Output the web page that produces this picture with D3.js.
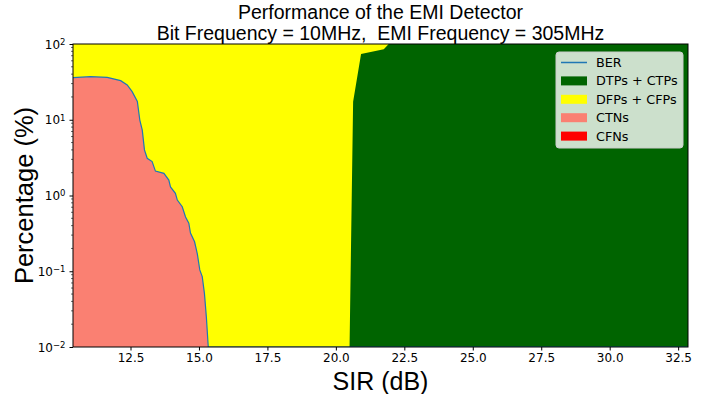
<!DOCTYPE html>
<html>
<head>
<meta charset="utf-8">
<script src="https://cdn.jsdelivr.net/npm/d3@7"></script>
<style>
  html, body { margin: 0; padding: 0; background: #fff; }
  svg { display: block; }
  .tick text { font-family: "DejaVu Sans", sans-serif; font-size: 12px; fill: #000; }
</style>
</head>
<body>
<div id="chart"></div>
<script>
// EMI detector outcome percentages versus SIR, drawn on a log percentage axis.

const MARGIN = { top: 44, right: 29, bottom: 47, left: 73 };
const WIDTH = 717;
const HEIGHT = 394;

const PALETTE = {
  ber: "#1f77b4",
  tp: "#006400",
  fp: "#ffff00",
  ctn: "#fa8072",
  cfn: "#ff0000",
};

const X_DOMAIN = [10.4, 32.86];
const Y_DOMAIN = [0.01, 100];
const X_TICKS = [12.5, 15.0, 17.5, 20.0, 22.5, 25.0, 27.5, 30.0, 32.5];
const Y_TICKS = [0.01, 0.1, 1, 10, 100];
const Y_TICK_EXP = ["\u22122", "\u22121", "0", "1", "2"];

// CTNs (and BER, which sits on the same curve), % vs SIR (dB)
const sirCtn = [10.4, 11.04, 11.65, 12.14, 12.38, 12.56, 12.75, 12.84, 12.93, 13.01,
  13.11, 13.29, 13.41, 13.72, 13.90, 13.96, 14.14, 14.21, 14.39, 14.51,
  14.63, 14.69, 14.84, 14.94, 15.03, 15.12, 15.20, 15.27, 15.34, 15.36, 32.86];
const ctnPct = [36.0, 37.0, 36.3, 32.8, 28.8, 23.5, 17.4, 9.9, 7.3, 4.0,
  3.1, 2.8, 2.1, 1.96, 1.6, 1.3, 1.07, 0.87, 0.71, 0.52,
  0.43, 0.32, 0.245, 0.17, 0.104, 0.085, 0.051, 0.025, 0.008, 0, 0];
const berPct = ctnPct;

// CFNs stay at zero over the whole range
const sirCfn = [10.4, 32.86];
const cfnPct = [0, 0];

// DTPs + CTPs
const sirTp = [10.4, 20.45, 20.5, 20.63, 20.92, 21.75, 21.93, 32.86];
const tpPct = [0, 0, 0.005, 17.3, 73.8, 85.0, 100, 100];

// DFPs + CFPs fill what is left up to 100 %
const sirFp = [10.4, 32.86];
const fpTop = [100, 100];

const LEGEND = [
  { label: "BER", color: PALETTE.ber, kind: "line" },
  { label: "DTPs + CTPs", color: PALETTE.tp, kind: "patch" },
  { label: "DFPs + CFPs", color: PALETTE.fp, kind: "patch" },
  { label: "CTNs", color: PALETTE.ctn, kind: "patch" },
  { label: "CFNs", color: PALETTE.cfn, kind: "patch" },
];

const d3 = window.d3;

const x = d3.scaleLinear().domain(X_DOMAIN).range([MARGIN.left, WIDTH - MARGIN.right]);
const y = d3.scaleLog().domain(Y_DOMAIN).range([HEIGHT - MARGIN.bottom, MARGIN.top]);
const yc = (v) => y(Math.max(Y_DOMAIN[0], Math.min(Y_DOMAIN[1], v)));

const svg = d3
  .select("#chart")
  .append("svg")
  .attr("width", WIDTH)
  .attr("height", HEIGHT)
  .attr("viewBox", [0, 0, WIDTH, HEIGHT]);

svg.append("clipPath").attr("id", "plot-clip")
  .append("rect")
  .attr("x", MARGIN.left)
  .attr("y", MARGIN.top)
  .attr("width", WIDTH - MARGIN.left - MARGIN.right)
  .attr("height", HEIGHT - MARGIN.top - MARGIN.bottom);

const plot = svg.append("g").attr("clip-path", "url(#plot-clip)");

const zip = (xs, ys) => xs.map((v, i) => [v, ys[i]]);
const area = d3.area().x((d) => x(d[0])).y0(() => y(Y_DOMAIN[0])).y1((d) => yc(d[1]));

plot.append("path").datum(zip(sirFp, fpTop)).attr("d", area).attr("fill", PALETTE.fp);
plot.append("path").datum(zip(sirTp, tpPct)).attr("d", area).attr("fill", PALETTE.tp);
plot.append("path").datum(zip(sirCtn, ctnPct)).attr("d", area).attr("fill", PALETTE.ctn);
plot.append("path").datum(zip(sirCfn, cfnPct)).attr("d", area).attr("fill", PALETTE.cfn);

plot.append("path")
  .datum(zip(sirCtn, berPct))
  .attr("d", d3.line().x((d) => x(d[0])).y((d) => yc(d[1])))
  .attr("fill", "none")
  .attr("stroke", PALETTE.ber)
  .attr("stroke-width", 1.2);

// axes
const xAxis = svg.append("g")
  .attr("transform", `translate(0,${HEIGHT - MARGIN.bottom})`)
  .call(d3.axisBottom(x).tickValues(X_TICKS).tickFormat(d3.format(".1f")).tickSize(3.5).tickPadding(3));
xAxis.select(".domain").remove();

const minorTicks = [];
for (let e = -2; e < 2; e++) {
  for (let m = 2; m <= 9; m++) minorTicks.push(m * Math.pow(10, e));
}
const yMinor = svg.append("g").attr("transform", `translate(${MARGIN.left},0)`);
yMinor.selectAll("line")
  .data(minorTicks)
  .join("line")
  .attr("x1", -2)
  .attr("x2", 0)
  .attr("y1", (d) => y(d))
  .attr("y2", (d) => y(d))
  .attr("stroke", "#000")
  .attr("stroke-width", 0.6);

const yAxis = svg.append("g")
  .attr("transform", `translate(${MARGIN.left},0)`)
  .call(d3.axisLeft(y).tickValues(Y_TICKS).tickFormat(() => "").tickSize(3.5).tickPadding(4));
yAxis.select(".domain").remove();
yAxis.selectAll(".tick text").each(function (d, i) {
  const t = d3.select(this).attr("dy", "0.35em");
  t.append("tspan").text("10");
  t.append("tspan").attr("dy", "-0.45em").style("font-size", "8.5px").text(Y_TICK_EXP[i]);
});

svg.append("rect")
  .attr("x", MARGIN.left)
  .attr("y", MARGIN.top)
  .attr("width", WIDTH - MARGIN.left - MARGIN.right)
  .attr("height", HEIGHT - MARGIN.top - MARGIN.bottom)
  .attr("fill", "none")
  .attr("stroke", "#000")
  .attr("stroke-width", 1);

// titles
const cx = (MARGIN.left + WIDTH - MARGIN.right) / 2;
svg.append("text")
  .attr("x", cx)
  .attr("y", 19)
  .attr("text-anchor", "middle")
  .style("font-family", "'Liberation Sans', Arial, sans-serif")
  .style("font-size", "19.5px")
  .text("Performance of the EMI Detector");
svg.append("text")
  .attr("x", cx)
  .attr("y", 40)
  .attr("text-anchor", "middle")
  .style("font-family", "'Liberation Sans', Arial, sans-serif")
  .style("font-size", "19.5px")
  .style("white-space", "pre")
  .text("Bit Frequency = 10MHz,  EMI Frequency = 305MHz");

svg.append("text")
  .attr("x", cx)
  .attr("y", 390)
  .attr("text-anchor", "middle")
  .style("font-family", "'Liberation Sans', Arial, sans-serif")
  .style("font-size", "25px")
  .text("SIR (dB)");

svg.append("text")
  .attr("transform", `translate(33,${(MARGIN.top + HEIGHT - MARGIN.bottom) / 2}) rotate(-90)`)
  .attr("text-anchor", "middle")
  .style("font-family", "'Liberation Sans', Arial, sans-serif")
  .style("font-size", "25.5px")
  .text("Percentage (%)");

// legend
const legend = svg.append("g").attr("transform", "translate(556,52)");
legend.append("rect")
  .attr("width", 127)
  .attr("height", 96)
  .attr("rx", 3)
  .attr("fill", "#fff")
  .attr("fill-opacity", 0.8)
  .attr("stroke", "#cccccc")
  .attr("stroke-width", 1);

const rows = legend.selectAll("g.row")
  .data(LEGEND)
  .join("g")
  .attr("class", "row")
  .attr("transform", (d, i) => `translate(5,${10.5 + i * 18.4})`);

rows.filter((d) => d.kind === "line")
  .append("line")
  .attr("x1", 0).attr("x2", 26)
  .attr("stroke", (d) => d.color)
  .attr("stroke-width", 1.5);
rows.filter((d) => d.kind === "patch")
  .append("rect")
  .attr("x", 0).attr("y", -4.5)
  .attr("width", 26).attr("height", 9)
  .attr("fill", (d) => d.color);
rows.append("text")
  .attr("x", 35)
  .attr("dy", "0.35em")
  .style("font-family", "'DejaVu Sans', sans-serif")
  .style("font-size", "12.8px")
  .text((d) => d.label);
</script>
</body>
</html>
